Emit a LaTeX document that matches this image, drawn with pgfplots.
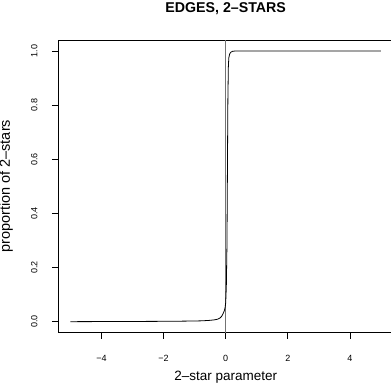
\documentclass[border=0pt]{standalone}
\usepackage{fontspec}
\setmainfont{Liberation Sans}
\usepackage{pgfplots}
\pgfplotsset{compat=1.18}
\pgfplotstableread{
x y
-5.00 0.0000
-4.00 0.0004
-3.00 0.0008
-2.00 0.0013
-1.50 0.0018
-1.00 0.0025
-0.75 0.0032
-0.50 0.0050
-0.35 0.0070
-0.25 0.0095
-0.18 0.0140
-0.13 0.0200
-0.10 0.0260
-0.07 0.0330
-0.04 0.0420
-0.02 0.0520
0.00 0.0700
0.02 0.1300
0.04 0.2800
0.055 0.5500
0.07 0.8200
0.085 0.9400
0.10 0.9750
0.13 0.9900
0.17 0.9960
0.22 0.9990
0.30 1.0000
1.00 1.0000
5.00 1.0000
}\curve
\begin{document}
\begin{tikzpicture}[x=1pt,y=1pt]
\begin{axis}[
  at={(58pt,50.5pt)}, anchor=south west,
  scale only axis, width=335.4pt, height=292.3pt,
  xmin=-5.4, xmax=5.4, ymin=-0.04, ymax=1.04,
  xtick={-4,-2,0,2,4}, ytick={0,0.2,0.4,0.6,0.8,1.0},
  xticklabels={−4,−2,0,2,4},
  yticklabels={0.0,0.2,0.4,0.6,0.8,1.0},
  tick align=outside, major tick length=6pt,
  xtick pos=left, ytick pos=left,
  axis line style={black, line width=0.7pt},
  tick style={black, line width=0.7pt},
  ticklabel style={font=\fontsize{9}{10}\selectfont},
  xticklabel style={anchor=base, yshift=-23pt},
  yticklabel style={xshift=-14.7pt, rotate=90, anchor=base},
  label style={font=\fontsize{13.5}{16}\selectfont},
  xlabel={2–star parameter},
  ylabel={proportion of 2–stars},
  xlabel style={at={([yshift=-48.2pt]axis description cs:0.5,0)}, anchor=base},
  ylabel style={font=\fontsize{14.5}{16}\selectfont, at={([xshift=-48pt]axis description cs:0,0.5)}, anchor=base},
  title={\bfseries EDGES, 2–STARS},
  title style={font=\fontsize{14.2}{17}\selectfont\bfseries, at={([yshift=21.9pt]axis description cs:0.5,1)}, anchor=base},
  clip=false,
]
\addplot[black!55, line width=0.8pt] coordinates {(0,-0.04) (0,1.04)};
\addplot[black, line width=0.8pt] table {\curve};
\end{axis}
\pgfresetboundingbox
\path[use as bounding box] (0,0) rectangle (391,383);
\end{tikzpicture}
\end{document}
